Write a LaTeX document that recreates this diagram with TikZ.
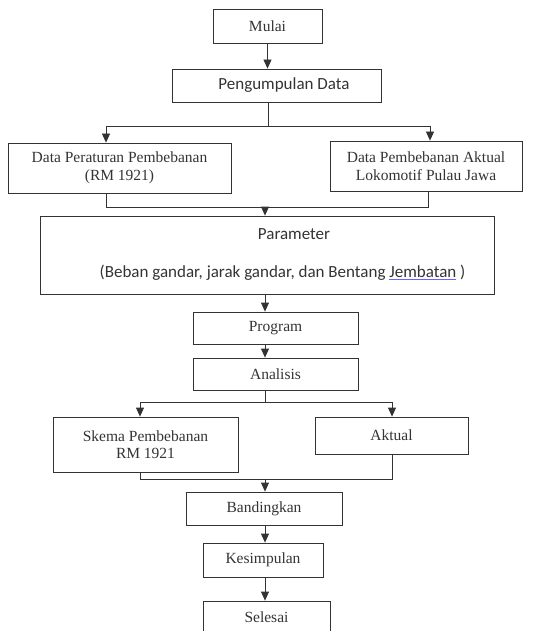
\documentclass[tikz,border=0pt]{standalone}
\usepackage{fontspec}
\setmainfont{Liberation Serif}
\newfontfamily\calibri{Carlito}
\usepackage{xcolor}
\usetikzlibrary{shapes.geometric, arrows.meta, positioning}
\definecolor{boxgray}{rgb}{0.2, 0.2, 0.2}
\tikzstyle{process} = [rectangle, draw=boxgray, fill=none, line width=0.8pt, inner sep=0pt, align=center, text=boxgray, font=\fontsize{15.5}{17.5}\selectfont]
\tikzstyle{sansprocess} = [process, font=\calibri\fontsize{17}{20}\selectfont]
\tikzstyle{arrow} = [line width=0.8pt, draw=boxgray, -{Triangle[width=8pt,length=9pt]}]
\tikzstyle{line} = [line width=0.8pt, draw=boxgray]

\begin{document}
\begin{tikzpicture}[x=1pt, y=-1pt]
        \useasboundingbox (0,0) rectangle (559,631);

        % Nodes
        \node (mulai) [process, minimum width=109pt, minimum height=34pt] at (267.5,26) {Mulai};
        \node (kumpul) [sansprocess, minimum width=209pt, minimum height=33pt] at (276.5,85.5) {\hspace*{15pt}Pengumpulan Data};
        \node (aturan) [process, minimum width=223pt, minimum height=50pt] at (119.5,168) {Data Peraturan Pembebanan\\ (RM 1921)};
        \node (aktualdata) [process, minimum width=192pt, minimum height=50pt] at (426,166) {Data Pembebanan Aktual\\ Lokomotif Pulau Jawa};
        \node (param) [sansprocess, minimum width=454pt, minimum height=78pt] at (267,255) {\hspace*{54pt}Parameter\\[18pt] \hspace*{31pt}(Beban gandar, jarak gandar, dan Bentang {\color{blue!60}\underline{\color{boxgray}Jembatan}} )};
        \node (program) [process, minimum width=165pt, minimum height=32pt] at (275.5,328) {Program};
        \node (analisis) [process, minimum width=165pt, minimum height=32pt] at (275.5,374) {Analisis};
        \node (skema) [process, minimum width=185pt, minimum height=55pt] at (145.5,444.5) {Skema Pembebanan\\ RM 1921};
        \node (aktual) [process, minimum width=153pt, minimum height=37pt] at (391.5,435.5) {Aktual};
        \node (banding) [process, minimum width=156pt, minimum height=33pt] at (264,508.5) {Bandingkan};
        \node (simpul) [process, minimum width=120pt, minimum height=34pt] at (263,560) {Kesimpulan};
        \node (selesai) [process, minimum width=127pt, minimum height=32pt] at (266.5,617) {Selesai};

        % Junctions
        \coordinate (bus1) at (268,126);
        \coordinate (bus1l) at (106,126);
        \coordinate (bus1r) at (430,126);
        \coordinate (bus2) at (265,207);
        \coordinate (bus2l) at (106,207);
        \coordinate (bus2r) at (428,207);
        \coordinate (bus3l) at (140,402);
        \coordinate (bus3r) at (392,402);
        \coordinate (bus4l) at (140,479);
        \coordinate (bus4r) at (392,479);

        % Arrows
        \draw [arrow] (mulai.south) -- (mulai.south |- kumpul.north);
        \draw [line] (kumpul.south -| bus1) -- (bus1);
        \draw [line] (bus1l) -- (bus1r);
        \draw [arrow] (bus1l) -- (bus1l |- aturan.north);
        \draw [arrow] (bus1r) -- (bus1r |- aktualdata.north);
        \draw [line] (aturan.south -| bus2l) -- (bus2l) -- (bus2r) -- (aktualdata.south -| bus2r);
        \draw [arrow] (bus2) -- (bus2 |- param.north);
        \draw [arrow] (bus2 |- param.south) -- (bus2 |- program.north);
        \draw [arrow] (bus2 |- program.south) -- (bus2 |- analisis.north);
        \draw [line] (bus2 |- analisis.south) -- (bus2 |- bus3l);
        \draw [line] (bus3l) -- (bus3r);
        \draw [arrow] (bus3l) -- (bus3l |- skema.north);
        \draw [arrow] (bus3r) -- (bus3r |- aktual.north);
        \draw [line] (skema.south -| bus4l) -- (bus4l) -- (bus4r) -- (aktual.south -| bus4r);
        \draw [arrow] (bus2 |- bus4l) -- (bus2 |- banding.north);
        \draw [arrow] (bus2 |- banding.south) -- (bus2 |- simpul.north);
        \draw [arrow] (bus2 |- simpul.south) -- (bus2 |- selesai.north);

    \end{tikzpicture}
\end{document}
